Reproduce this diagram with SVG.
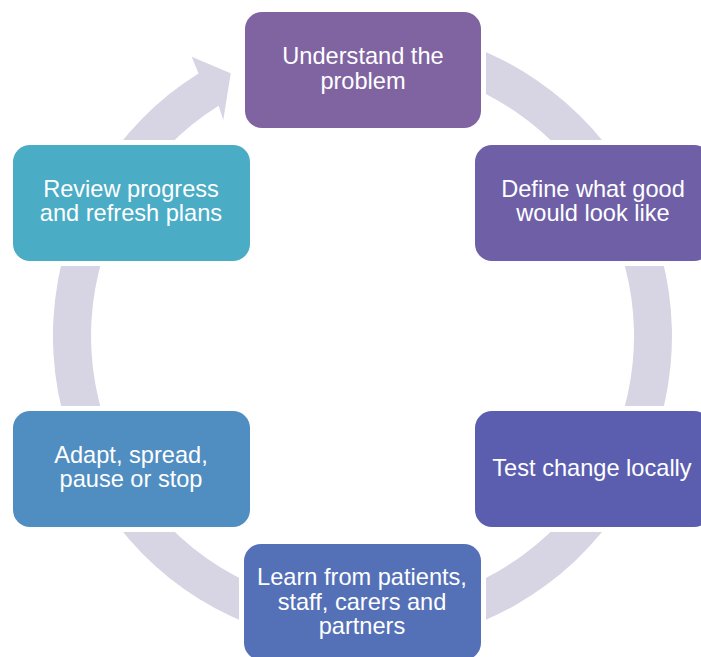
<svg xmlns="http://www.w3.org/2000/svg" width="701" height="657" viewBox="0 0 701 657">
<style>
.box{stroke:#ffffff;stroke-width:10;paint-order:stroke}
.lbl{font-family:"Liberation Sans",Arial,sans-serif;font-size:23.6px;fill:#ffffff;text-anchor:middle}
</style>
<rect width="701" height="657" fill="#ffffff"/>
<g id="connectors">
<path d="M 362.5 26.5 A 309.5 309.5 0 1 1 198.5 73.5 L 191.7 56.7 L 230.7 73.3 L 223.3 120 L 218.6 105.8 A 271.5 271.5 0 1 0 362.5 64.5 Z" fill="#D7D4E4"/>
</g>
<g id="understand">
<rect class="box" x="245" y="12" width="236" height="116" rx="17" fill="#8064A2"/>
<text class="lbl" x="363" y="64">Understand the</text>
<text class="lbl" x="363" y="89">problem</text>
</g>
<g id="define">
<rect class="box" x="475" y="145" width="236" height="116" rx="17" fill="#6E5FA7"/>
<text class="lbl" x="593" y="197">Define what good</text>
<text class="lbl" x="593" y="221">would look like</text>
</g>
<g id="test">
<rect class="box" x="475" y="411" width="236" height="116" rx="17" fill="#5B5EAF"/>
<text class="lbl" x="592" y="476">Test change locally</text>
</g>
<g id="learn">
<rect class="box" x="244" y="544" width="237" height="116" rx="17" fill="#5470B7"/>
<text class="lbl" x="362" y="585">Learn from patients,</text>
<text class="lbl" x="362" y="610">staff, carers and</text>
<text class="lbl" x="362" y="634">partners</text>
</g>
<g id="adapt">
<rect class="box" x="13" y="411" width="237" height="116" rx="17" fill="#508DC0"/>
<text class="lbl" x="131" y="463">Adapt, spread,</text>
<text class="lbl" x="131" y="487">pause or stop</text>
</g>
<g id="review">
<rect class="box" x="13" y="145" width="237" height="116" rx="17" fill="#4BACC6"/>
<text class="lbl" x="131" y="197">Review progress</text>
<text class="lbl" x="131" y="221">and refresh plans</text>
</g>
</svg>
